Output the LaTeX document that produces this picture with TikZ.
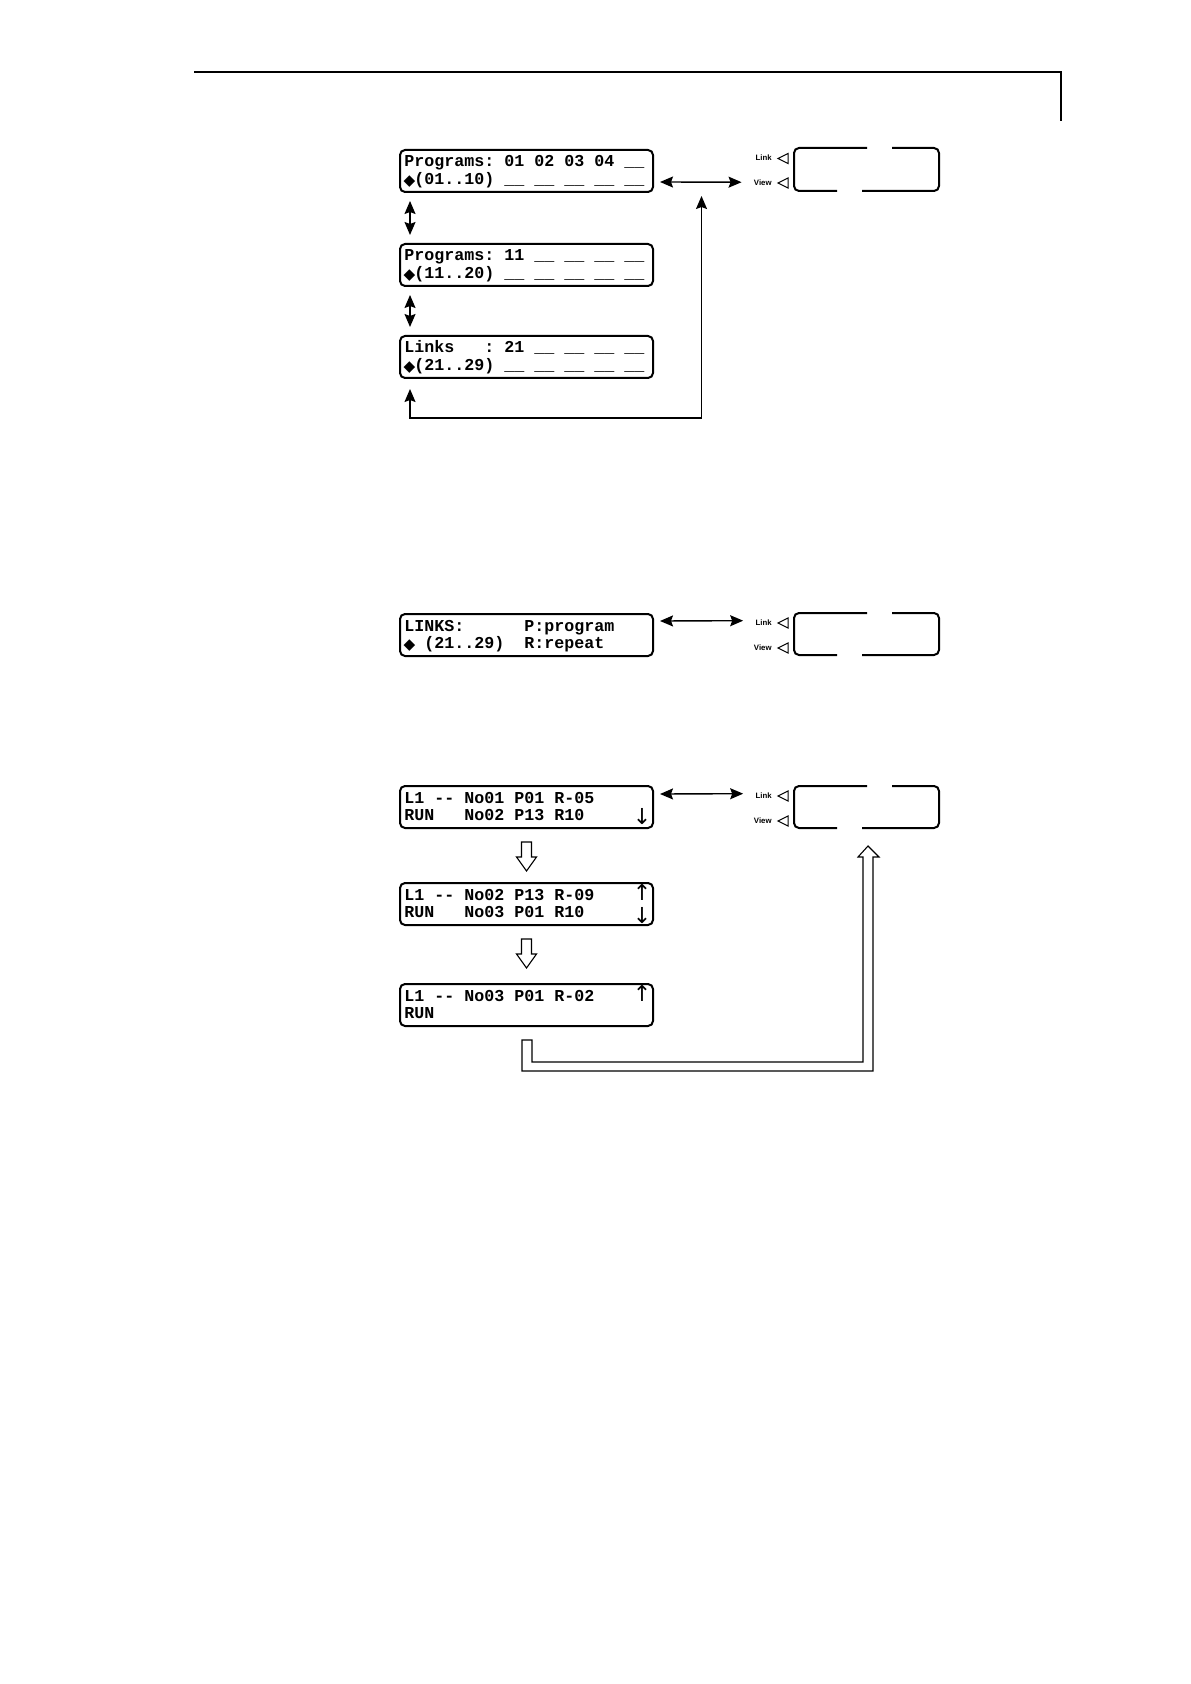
\documentclass[tikz,border=0pt]{standalone}
\usepackage{fontspec}
\setmainfont{Liberation Sans}
\setmonofont{Liberation Mono}
\newfontfamily\symfont{DejaVu Sans}
\newfontfamily\lblfont{Liberation Sans}
\usetikzlibrary{arrows.meta,calc}
\newsavebox\diabox
\newcommand\dia{\sbox\diabox{\symfont\fontsize{7.6}{7.6}\selectfont ◆}\makebox[5pt][c]{\raisebox{\dimexpr 1.5pt-0.5\ht\diabox+0.5\dp\diabox\relax}{\usebox\diabox}}}
\begin{document}
\begin{tikzpicture}[x=0.5pt,y=-0.5pt,
  lcd/.style={draw, line width=1pt, rounded corners=2.5pt, minimum width=126.5pt, minimum height=21pt, inner sep=0pt},
  row/.style={anchor=base west, inner sep=0pt, font=\ttfamily\bfseries\fontsize{8.33}{10}\selectfont},
  lbl/.style={anchor=base east, inner sep=0pt, font=\lblfont\bfseries\fontsize{3.9}{4}\selectfont},
  arw/.style={inner sep=0pt, font=\symfont\fontsize{11}{11}\selectfont},
  dbl/.style={line width=0.7pt, {Stealth[length=6.5pt,width=5.5pt,inset=1pt]}-{Stealth[length=6.5pt,width=5.5pt,inset=1pt]}},
  hollow/.style={draw, line width=0.55pt, fill=white, line join=miter},
  tri/.style={line width=0.5pt, line join=miter},
  disp/.style={line width=1pt, rounded corners=2.5pt}
]
\fill[white] (0,0) rectangle (1190,1684);
\useasboundingbox (0,0) rectangle (1190,1684);

% header rule
\draw[line width=0.6pt] (194,72) -- (1061,72) -- (1061,121);

% ---------- section 1 ----------
\node[lcd] (p1) at (526.5,171) {};
\node[lcd] (p2) at (526.5,265) {};
\node[lcd] (p3) at (526.5,357) {};
\node[row] (p1a) at ($(p1.west)+(5,-4)$) {Programs:~01~02~03~04~\_\_};
\node[row] (p1b) at ($(p1.west)+(5,13.5)$) {\dia(01..10)~\_\_~\_\_~\_\_~\_\_~\_\_};
\node[row] (p2a) at ($(p2.west)+(5,-4)$) {Programs:~11~\_\_~\_\_~\_\_~\_\_};
\node[row] (p2b) at ($(p2.west)+(5,13.5)$) {\dia(11..20)~\_\_~\_\_~\_\_~\_\_~\_\_};
\node[row] (p3a) at ($(p3.west)+(5,-4)$) {Links~~~:~21~\_\_~\_\_~\_\_~\_\_};
\node[row] (p3b) at ($(p3.west)+(5,13.5)$) {\dia(21..29)~\_\_~\_\_~\_\_~\_\_~\_\_};

\node[lbl] (lk1) at (772,161) {Link};
\node[lbl] (vw1) at (772,186) {View};
\draw[tri] (778,158.5) -- (788,153.5) -- (788,163.5) -- cycle;
\draw[tri] (778,183) -- (788,178) -- (788,188) -- cycle;
\draw[disp] (867,148) -- (794,148) -- (794,191) -- (837,191);
\draw[disp] (862,191) -- (939,191) -- (939,148) -- (892,148);

\draw[dbl] ($(p1.east)+(6,11)$) -- ($(vw1.west)+(-12,-1)$);
\draw[dbl] ($(p1.south west)+(11,8)$) -- ($(p2.north west)+(11,-8)$);
\draw[dbl] ($(p2.south west)+(11,8)$) -- ($(p3.north west)+(11,-8)$);
\coordinate (j1) at (701.5,196);
\draw[dbl] ($(p3.south west)+(11,10)$) -- ($(p3.south west)+(11,39)$) -| (j1);

% ---------- section 2 ----------
\node[lcd] (lk) at (526.5,635) {};
\node[row] (lka) at ($(lk.west)+(5,-4)$) {LINKS:~~~~~~P:program};
\node[row] (lkb) at ($(lk.west)+(5,13.5)$) {\dia~(21..29)~~R:repeat};
\node[lbl] (lk2) at (772,625.5) {Link};
\node[lbl] (vw2) at (772,650.5) {View};
\draw[tri] (778,623) -- (788,618) -- (788,628) -- cycle;
\draw[tri] (778,648) -- (788,643) -- (788,653) -- cycle;
\draw[disp] (867,613) -- (794,613) -- (794,655) -- (837,655);
\draw[disp] (862,655) -- (939,655) -- (939,613) -- (892,613);
\draw[dbl] ($(lk.east)+(6,-14)$) -- ($(lk2.west)+(-12,-2)$);

% ---------- section 3 ----------
\node[lcd] (r1) at (526.5,807) {};
\node[lcd] (r2) at (526.5,904) {};
\node[lcd] (r3) at (526.5,1005) {};
\node[row] (r1a) at ($(r1.west)+(5,-4)$) {L1~-{}-~No01~P01~R-05};
\node[row] (r1b) at ($(r1.west)+(5,13.5)$) {RUN~~~No02~P13~R10};
\node[row] (r2a) at ($(r2.west)+(5,-4)$) {L1~-{}-~No02~P13~R-09};
\node[row] (r2b) at ($(r2.west)+(5,13.5)$) {RUN~~~No03~P01~R10};
\node[row] (r3a) at ($(r3.west)+(5,-4)$) {L1~-{}-~No03~P01~R-02};
\node[row] (r3b) at ($(r3.west)+(5,13.5)$) {RUN};
\node[arw] (r1d) at (642,816.5) {↓};
\node[arw] (r2u) at (642,892) {↑};
\node[arw] (r2d) at (642,916) {↓};
\node[arw] (r3u) at (642,993) {↑};

\node[lbl] (lk3) at (772,798.5) {Link};
\node[lbl] (vw3) at (772,823.5) {View};
\draw[tri] (778,796) -- (788,791) -- (788,801) -- cycle;
\draw[tri] (778,821) -- (788,816) -- (788,826) -- cycle;
\draw[disp] (867,786) -- (794,786) -- (794,828) -- (837,828);
\draw[disp] (862,828) -- (939,828) -- (939,786) -- (892,786);
\draw[dbl] ($(r1.east)+(6,-13)$) -- ($(lk3.west)+(-12,-2)$);

\draw[hollow] ($(r1.south)+(-5,13)$) -- ++(10,0) -- ++(0,15) -- ++(5,0) -- ++(-10,14) -- ++(-10,-14) -- ++(5,0) -- cycle;
\draw[hollow] ($(r2.south)+(-5,13)$) -- ++(10,0) -- ++(0,15) -- ++(5,0) -- ++(-10,14) -- ++(-10,-14) -- ++(5,0) -- cycle;
\coordinate (j3) at (868,846);
\draw[hollow] ($(r3.south)+(-4.5,13)$) -- ++(10,0) -- (532,1062) -- (863,1062) -- (863,857) -- (858,857) -- (j3) -- (879,857) -- (873,857) -- (873,1071) -- (522,1071) -- cycle;
\end{tikzpicture}
\end{document}
